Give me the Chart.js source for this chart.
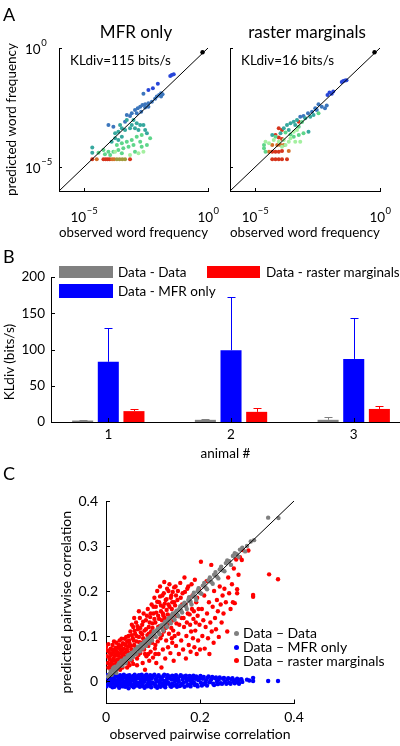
<!DOCTYPE html>
<html>
<head>
<meta charset="utf-8">
<script src="https://cdn.jsdelivr.net/npm/chart.js@4.4.1/dist/chart.umd.min.js"></script>
<style>
  body { margin: 0; background: #fff; width: 400px; height: 746px; position: relative; overflow: hidden; font-family: Lato, sans-serif; color: #000; }
  canvas { position: absolute; }
  .t { position: absolute; white-space: nowrap; line-height: 1; }
  .sw { position: absolute; }
  .dot { position: absolute; width: 5px; height: 5px; border-radius: 50%; }
</style>
</head>
<body>
<canvas id="a1" width="225" height="245" style="left:0;top:0"></canvas>
<canvas id="a2" width="185" height="245" style="left:215px;top:0"></canvas>
<canvas id="b" width="400" height="220" style="left:0;top:245px"></canvas>
<canvas id="c" width="400" height="281" style="left:0;top:465px"></canvas>

<div class="t" style="left:3px;top:5px;font-size:18px">A</div>
<div class="t" style="left:76px;top:23px;width:120px;text-align:center;font-size:17px">MFR only</div>
<div class="t" style="left:247px;top:23px;width:120px;text-align:center;font-size:17px">raster marginals</div>
<div class="t" style="left:70px;top:54px;font-size:13.5px">KLdiv=115 bits/s</div>
<div class="t" style="left:241px;top:54px;font-size:13.5px">KLdiv=16 bits/s</div>

<div class="t" style="left:3px;top:247px;font-size:18px">B</div>
<div class="t" style="left:-51px;top:354px;width:120px;height:16px;line-height:16px;text-align:center;font-size:13.5px;transform:rotate(-90deg)">KLdiv (bits/s)</div>
<div class="sw" style="left:59px;top:266px;width:54px;height:12px;background:#808080"></div>
<div class="sw" style="left:59px;top:284px;width:54px;height:14px;background:#0000ff"></div>
<div class="sw" style="left:207px;top:266px;width:53px;height:12px;background:#ff0000"></div>
<div class="t" style="left:118px;top:266px;font-size:13.5px">Data - Data</div>
<div class="t" style="left:118px;top:285px;font-size:13.5px">Data - MFR only</div>
<div class="t" style="left:266px;top:266px;font-size:13.5px">Data - raster marginals</div>

<div class="t" style="left:3px;top:464px;font-size:18px">C</div>
<div class="dot" style="left:234px;top:631px;background:#808080"></div>
<div class="dot" style="left:234px;top:645px;background:#0000ff"></div>
<div class="dot" style="left:234px;top:658px;background:#ff0000"></div>
<div class="t" style="left:243px;top:626px;font-size:14px">Data &ndash; Data</div>
<div class="t" style="left:243px;top:640px;font-size:14px">Data &ndash; MFR only</div>
<div class="t" style="left:243px;top:654px;font-size:14px">Data &ndash; raster marginals</div>

<script>
// ---- panel A: log10 of word frequency [observed, predicted] ----
var aTickExps = [-5, 0];
var diagExps = [-6, 0];
var topWord = [-0.22, -0.18];

var mfrBlue = [[-1.52,-1.17],[-1.46,-1.13],[-1.38,-1.10],[-2.02,-1.50],[-2.22,-1.69],[-2.40,-1.76]];
var mfrSteel = [[-2.60,-1.92],[-1.89,-1.90],[-1.83,-1.94],[-1.97,-1.97],[-2.06,-2.04],[-2.13,-2.13],[-1.89,-2.04],[-2.26,-2.25],[-2.40,-2.32],[-2.53,-2.36],[-2.64,-2.39],[-2.73,-2.46],[-2.83,-2.53],[-2.53,-2.50],[-2.40,-2.46],[-2.94,-2.60],[-2.87,-2.74],[-2.69,-2.67],[-3.07,-2.74],[-3.27,-2.81],[-3.14,-2.85],[-4.01,-3.23],[-3.81,-3.30],[-3.34,-3.09]];
var mfrTeal = [[-3.54,-3.23],[-3.27,-3.02],[-3.00,-3.02],[-2.87,-3.16],[-2.73,-3.23],[-2.60,-3.23],[-3.07,-3.23],[-3.47,-3.37],[-3.34,-3.44],[-3.14,-3.37],[-2.94,-3.37],[-2.80,-3.44],[-3.61,-3.51],[-3.74,-3.58],[-2.53,-3.44],[-2.46,-3.58],[-3.74,-3.79],[-3.61,-3.86],[-3.88,-3.93],[-3.47,-3.72],[-4.66,-4.18],[-4.66,-4.39]];
var mfrGreen = [[-3.67,-4.07],[-3.47,-4.00],[-3.27,-3.93],[-3.07,-3.86],[-2.87,-3.72],[-2.67,-3.65],[-2.73,-3.93],[-3.00,-4.07],[-3.20,-4.14],[-3.41,-4.21],[-3.61,-4.28],[-3.81,-4.35],[-4.01,-4.35],[-4.21,-4.28],[-4.41,-4.39],[-4.15,-4.46],[-3.94,-4.49],[-3.47,-4.42],[-2.94,-4.35],[-2.67,-4.14],[-2.46,-4.07],[-2.33,-3.79]];
var mfrLight = [[-3.14,-4.49],[-2.80,-4.42],[-2.60,-4.35],[-3.74,-4.35]];
var mfrRed = [[-4.66,-4.67],[-4.21,-4.67],[-4.12,-4.67],[-4.04,-4.67],[-3.96,-4.67],[-3.14,-4.67]];
var mfrOrange = [[-4.48,-4.67],[-3.86,-4.67],[-3.78,-4.67]];
var mfrOlive = [[-3.67,-4.67],[-3.56,-4.67],[-3.45,-4.67],[-3.34,-4.67]];

var rmBlue = [[-1.47,-1.38],[-1.40,-1.36],[-1.34,-1.35],[-1.53,-1.43],[-2.02,-1.87],[-2.10,-1.97],[-1.93,-1.92],[-1.87,-1.83]];
var rmSteel = [[-2.20,-2.53],[-2.13,-2.41],[-2.46,-2.36],[-2.33,-2.46],[-2.59,-2.53],[-2.72,-2.67],[-2.53,-2.60],[-2.88,-2.74],[-3.19,-2.88],[-3.06,-2.85]];
var rmTeal = [[-3.32,-3.02],[-3.45,-3.09],[-3.58,-3.16],[-3.72,-3.23],[-3.85,-3.37],[-3.65,-3.44],[-3.39,-3.23],[-4.31,-3.65],[-3.98,-3.58],[-2.86,-3.51],[-2.99,-2.95],[-2.79,-2.88],[-2.66,-2.81]];
var rmGreen = [[-3.25,-3.30],[-3.12,-3.11],[-3.78,-3.55],[-3.58,-3.63],[-3.45,-3.72],[-3.25,-3.65],[-3.06,-3.58],[-2.46,-2.74],[-4.18,-3.72],[-4.64,-4.07],[-4.64,-4.21],[-4.58,-4.35]];
var rmLight = [[-4.58,-3.93],[-4.44,-4.00],[-4.25,-3.86],[-4.05,-3.93],[-3.85,-3.86],[-3.65,-3.93],[-3.39,-3.93],[-3.19,-3.93],[-3.45,-3.51],[-3.32,-3.44],[-3.58,-3.79],[-3.78,-4.07],[-3.92,-4.14]];
var rmRed = [[-4.05,-3.37],[-3.92,-3.44],[-3.25,-3.09],[-4.31,-4.35],[-4.18,-4.35],[-4.05,-4.35],[-3.92,-4.32],[-4.31,-4.67],[-4.18,-4.67],[-4.05,-4.67],[-3.92,-4.67],[-3.72,-4.67],[-4.18,-3.65],[-4.05,-3.76],[-3.92,-3.82]];
var rmOrange = [[-4.31,-4.07],[-4.11,-4.07],[-3.98,-4.07],[-3.85,-4.07],[-3.65,-4.32],[-4.44,-4.35]];

// ---- panel B: KL divergence per animal ----
var animals = [1, 2, 3];
var bTicks = [0, 50, 100, 150, 200];
var klData = [2, 3, 3];
var klDataErr = [3, 4.5, 7];
var klMfr = [83, 99, 87];
var klMfrErr = [129, 172, 143];
var klRaster = [15, 14, 18];
var klRasterErr = [17.5, 19, 22];

// ---- panel C: pairwise correlations [observed, predicted] ----
var cTicksX = [0, 0.2, 0.4];
var cTicksY = [0, 0.1, 0.2, 0.3, 0.4];
var cDiag = [0, 0.4];

var corrData = [[0.010,0.022],[0.012,0.014],[0.015,0.028],[0.018,0.020],[0.020,0.032],[0.022,0.018],[0.025,0.030],[0.028,0.040],[0.030,0.036],[0.033,0.045],[0.036,0.040],[0.040,0.050],[0.043,0.046],[0.046,0.055],[0.050,0.052],[0.053,0.060],[0.056,0.058],[0.060,0.066],[0.063,0.062],[0.066,0.072],[0.070,0.070],[0.073,0.078],[0.076,0.074],[0.080,0.084],[0.083,0.080],[0.086,0.090],[0.090,0.088],[0.093,0.096],[0.096,0.094],[0.100,0.104],[0.104,0.100],[0.108,0.112],[0.112,0.108],[0.116,0.120],[0.120,0.116],[0.124,0.128],[0.128,0.124],[0.132,0.136],[0.136,0.132],[0.140,0.145],[0.144,0.140],[0.148,0.152],[0.152,0.148],[0.156,0.160],[0.160,0.156],[0.165,0.170],[0.170,0.166],[0.175,0.180],[0.180,0.176],[0.185,0.190],[0.190,0.186],[0.195,0.200],[0.200,0.196],[0.206,0.212],[0.212,0.208],[0.218,0.224],[0.224,0.220],[0.230,0.236],[0.236,0.232],[0.242,0.248],[0.248,0.246],[0.255,0.262],[0.262,0.266],[0.270,0.278],[0.278,0.282],[0.285,0.292],[0.300,0.300],[0.315,0.313],[0.345,0.363],[0.367,0.362],
[0.004,0.010],[0.008,0.016],[0.014,0.024],[0.017,0.030],[0.022,0.026],[0.026,0.036],[0.031,0.042],[0.035,0.034],[0.038,0.046],[0.042,0.040],[0.045,0.050],[0.048,0.058],[0.052,0.048],[0.055,0.063],[0.058,0.054],[0.062,0.070],[0.065,0.060],[0.068,0.076],[0.072,0.066],[0.075,0.082],[0.078,0.072],[0.082,0.088],[0.085,0.078],[0.088,0.094],[0.092,0.084],[0.095,0.100],[0.098,0.090],[0.102,0.110],[0.106,0.098],[0.110,0.116],[0.114,0.104],[0.118,0.124],[0.122,0.112],[0.126,0.132],[0.130,0.120],[0.134,0.140],[0.138,0.128],[0.142,0.150],[0.146,0.136],[0.150,0.156],[0.154,0.144],[0.158,0.166],[0.162,0.152],[0.167,0.174],[0.172,0.160],[0.177,0.186],[0.182,0.170],[0.187,0.196],[0.192,0.180],[0.197,0.206],[0.203,0.194],[0.209,0.218],[0.215,0.204],[0.221,0.230],[0.227,0.216],[0.233,0.242],[0.239,0.228],[0.245,0.254],[0.252,0.244],[0.258,0.268],[0.266,0.258],[0.274,0.284],[0.282,0.276],[0.290,0.296],[0.296,0.288],[0.308,0.310]];

var corrMfr = [[0.002,0.004],[0.004,-0.008],[0.006,0.010],[0.007,-0.002],[0.009,0.006],[0.010,-0.011],[0.012,0.001],[0.013,0.012],[0.015,-0.005],[0.016,0.007],[0.018,-0.013],[0.019,0.003],[0.021,-0.007],[0.022,0.011],[0.024,0.000],[0.025,-0.010],[0.027,0.006],[0.029,-0.003],[0.030,0.013],[0.032,-0.008],[0.034,0.004],[0.035,-0.012],[0.037,0.008],[0.039,-0.001],[0.040,0.010],[0.042,-0.006],[0.044,0.002],[0.046,0.012],[0.047,-0.009],[0.049,0.005],[0.051,-0.004],[0.053,0.009],[0.055,-0.011],[0.056,0.001],[0.058,0.011],[0.060,-0.006],[0.062,0.004],[0.064,-0.002],[0.066,0.010],[0.067,-0.010],[0.069,0.006],[0.071,-0.004],[0.073,0.012],[0.075,0.000],[0.077,-0.008],[0.079,0.008],[0.081,-0.002],[0.083,0.011],[0.085,-0.011],[0.087,0.003],[0.089,-0.006],[0.091,0.009],[0.093,0.000],[0.095,-0.009],[0.097,0.006],[0.099,-0.003],[0.101,0.012],[0.104,-0.007],[0.106,0.004],[0.108,-0.001],[0.110,0.010],[0.113,-0.010],[0.115,0.002],[0.117,0.008],[0.120,-0.005],[0.122,0.011],[0.125,0.000],[0.127,-0.008],[0.130,0.007],[0.132,-0.003],[0.135,0.010],[0.137,-0.011],[0.140,0.003],[0.142,-0.006],[0.145,0.009],[0.147,0.000],[0.150,-0.008],[0.153,0.006],[0.155,-0.002],[0.158,0.011],[0.160,-0.009],[0.163,0.004],[0.165,-0.004],[0.168,0.008],[0.171,-0.001],[0.173,-0.010],[0.176,0.006],[0.179,0.001],[0.181,-0.006],[0.184,0.009],[0.187,-0.003],[0.190,0.005],[0.193,-0.008],[0.196,0.002],[0.199,0.008],[0.202,-0.004],[0.206,0.005],[0.209,-0.007],[0.213,0.002],[0.216,0.007],[0.220,-0.003],[0.224,0.004],[0.228,-0.006],[0.232,0.006],[0.236,-0.001],[0.240,0.003],[0.244,-0.005],[0.249,0.005],[0.253,-0.002],[0.258,0.003],[0.262,-0.004],[0.267,0.004],[0.271,-0.001],[0.276,0.002],[0.281,-0.003],[0.285,0.003],[0.290,-0.002],[0.300,0.003],[0.305,0.001],[0.313,0.007],[0.313,0.000],[0.345,0.000],[0.366,0.000],
[0.001,-0.012],[0.003,0.013],[0.005,0.001],[0.008,-0.006],[0.011,0.009],[0.014,-0.014],[0.017,0.002],[0.020,0.014],[0.023,-0.004],[0.026,0.009],[0.028,-0.015],[0.031,0.002],[0.033,0.010],[0.036,-0.005],[0.038,0.014],[0.041,-0.013],[0.043,0.007],[0.045,-0.002],[0.048,-0.016],[0.050,0.013],[0.052,0.000],[0.054,-0.009],[0.057,0.006],[0.059,-0.014],[0.061,0.014],[0.063,-0.010],[0.065,0.007],[0.068,-0.005],[0.070,0.013],[0.072,-0.013],[0.074,0.004],[0.076,0.014],[0.078,-0.011],[0.080,0.003],[0.082,-0.015],[0.084,0.008],[0.086,0.014],[0.088,-0.012],[0.090,0.002],[0.092,-0.008],[0.094,0.013],[0.096,-0.014],[0.098,0.009],[0.100,-0.005],[0.103,0.014],[0.105,-0.012],[0.107,0.006],[0.109,-0.015],[0.112,0.013],[0.114,-0.003],[0.116,-0.013],[0.119,0.004],[0.121,-0.010],[0.124,0.014],[0.126,-0.014],[0.129,0.002],[0.131,0.013],[0.134,-0.006],[0.136,0.006],[0.139,-0.013],[0.141,0.012],[0.144,-0.010],[0.146,0.005],[0.149,0.013],[0.151,-0.013],[0.154,0.001],[0.157,-0.011],[0.159,0.013],[0.162,-0.006],[0.164,0.010],[0.167,-0.013],[0.170,0.012],[0.172,0.003],[0.175,-0.008],[0.178,0.011],[0.180,-0.012],[0.183,0.003],[0.186,0.012],[0.189,-0.009],[0.192,0.010],[0.195,-0.012],[0.198,0.004],[0.201,0.011],[0.204,-0.010],[0.208,0.009],[0.211,-0.004],[0.215,-0.010],[0.218,0.010],[0.222,0.000],[0.226,0.009],[0.230,-0.009],[0.234,0.008],[0.238,-0.007],[0.242,0.008],[0.247,-0.006],[0.251,0.007],[0.256,-0.006],[0.260,0.006],[0.265,-0.006],[0.269,0.006],[0.274,-0.005],[0.279,0.005],[0.283,-0.006],[0.288,0.004]];

var corrRaster = [[0.000,0.076],[0.002,0.055],[0.004,0.040],[0.005,0.030],[0.006,0.065],[0.008,0.048],[0.009,0.035],[0.010,0.072],[0.011,0.058],[0.012,0.042],[0.013,0.028],[0.014,0.080],[0.015,0.064],[0.016,0.050],[0.017,0.036],[0.018,0.070],[0.019,0.045],[0.020,0.058],[0.021,0.030],[0.022,0.085],[0.023,0.066],[0.024,0.048],[0.025,0.040],[0.026,0.074],[0.027,0.056],[0.028,0.034],[0.029,0.090],[0.030,0.062],[0.030,0.025],[0.031,0.046],[0.032,0.078],[0.033,0.052],[0.034,0.068],[0.035,0.040],[0.036,0.084],[0.037,0.060],[0.038,0.072],[0.039,0.050],[0.040,0.094],[0.041,0.064],[0.042,0.080],[0.043,0.044],[0.044,0.070],[0.045,0.088],[0.045,0.030],[0.046,0.056],[0.047,0.076],[0.048,0.100],[0.049,0.062],[0.050,0.084],[0.050,0.035],
[0.052,0.110],[0.054,0.070],[0.055,0.045],[0.057,0.095],[0.058,0.120],[0.060,0.080],[0.061,0.060],[0.062,0.105],[0.064,0.130],[0.065,0.088],[0.066,0.050],[0.068,0.115],[0.069,0.075],[0.070,0.098],[0.072,0.140],[0.073,0.062],[0.074,0.108],[0.075,0.085],[0.077,0.125],[0.078,0.040],[0.079,0.095],[0.080,0.150],[0.081,0.070],[0.082,0.112],[0.083,0.025],[0.084,0.088],[0.085,0.135],[0.086,0.055],[0.088,0.102],[0.089,0.160],[0.090,0.078],[0.091,0.120],[0.092,0.045],[0.093,0.095],[0.094,0.142],[0.095,0.065],[0.096,0.110],[0.097,0.170],[0.098,0.085],[0.099,0.128],[0.100,0.052],
[0.101,0.150],[0.102,0.100],[0.103,0.185],[0.104,0.072],[0.105,0.130],[0.106,0.165],[0.107,0.040],[0.108,0.112],[0.109,0.200],[0.110,0.088],[0.111,0.145],[0.112,0.060],[0.113,0.175],[0.114,0.122],[0.115,0.210],[0.116,0.095],[0.117,0.155],[0.118,0.030],[0.119,0.135],[0.120,0.190],[0.121,0.070],[0.122,0.165],[0.123,0.110],[0.124,0.220],[0.125,0.140],[0.126,0.050],[0.127,0.180],[0.128,0.090],[0.129,0.158],[0.130,0.205],[0.131,0.125],[0.132,0.075],[0.133,0.170],[0.134,0.105],[0.135,0.215],[0.136,0.145],[0.137,0.062],[0.138,0.185],[0.139,0.118],[0.140,0.160],[0.141,0.085],[0.142,0.198],[0.143,0.135],[0.144,0.045],[0.145,0.175],[0.146,0.100],[0.147,0.150],[0.148,0.210],[0.149,0.078],[0.150,0.128],
[0.152,0.180],[0.154,0.105],[0.155,0.060],[0.157,0.160],[0.158,0.218],[0.160,0.090],[0.161,0.140],[0.163,0.195],[0.164,0.070],[0.166,0.120],[0.167,0.230],[0.169,0.170],[0.170,0.050],[0.171,0.100],[0.173,0.205],[0.174,0.150],[0.176,0.080],[0.177,0.185],[0.179,0.125],[0.180,0.065],[0.182,0.215],[0.183,0.160],[0.185,0.095],[0.186,0.138],[0.188,0.075],[0.189,0.225],[0.190,0.112],[0.192,0.175],[0.193,0.060],[0.195,0.145],[0.196,0.090],[0.198,0.205],[0.199,0.125],[0.200,0.070],
[0.202,0.265],[0.204,0.160],[0.205,0.100],[0.207,0.135],[0.209,0.190],[0.210,0.072],[0.212,0.120],[0.214,0.222],[0.215,0.150],[0.217,0.095],[0.219,0.175],[0.220,0.060],[0.222,0.130],[0.224,0.258],[0.225,0.110],[0.227,0.165],[0.229,0.085],[0.230,0.200],[0.232,0.140],[0.234,0.115],[0.236,0.180],[0.238,0.155],[0.240,0.098],[0.242,0.210],[0.244,0.170],[0.246,0.130],[0.248,0.190],[0.250,0.150],
[0.252,0.205],[0.255,0.175],[0.258,0.110],[0.260,0.230],[0.262,0.195],[0.265,0.160],[0.268,0.215],[0.270,0.175],[0.272,0.250],[0.274,0.173],[0.277,0.270],[0.279,0.204],[0.279,0.195],[0.282,0.236],[0.285,0.275],[0.289,0.269],[0.291,0.291],[0.303,0.290],[0.313,0.191],[0.313,0.187],[0.347,0.237],[0.366,0.226],
[0.003,0.068],[0.005,0.082],[0.007,0.052],[0.009,0.061],[0.011,0.038],[0.013,0.070],[0.015,0.046],[0.017,0.088],[0.019,0.056],[0.021,0.074],[0.023,0.040],[0.025,0.062],[0.027,0.080],[0.029,0.048],[0.031,0.070],[0.033,0.094],[0.035,0.058],[0.037,0.044],[0.039,0.082],[0.041,0.054],[0.043,0.098],[0.045,0.066],[0.047,0.040],[0.049,0.090],[0.051,0.060],[0.053,0.078],[0.055,0.102],[0.057,0.066],[0.059,0.090],[0.061,0.112],[0.063,0.074],[0.065,0.100],[0.067,0.122],[0.069,0.058],[0.071,0.086],[0.073,0.118],[0.075,0.070],[0.077,0.104],[0.079,0.132],[0.081,0.092],[0.083,0.060],[0.085,0.115],[0.087,0.145],[0.089,0.082],[0.091,0.105],[0.093,0.130],[0.095,0.150],[0.097,0.092],[0.099,0.118],[0.101,0.165],[0.103,0.138],[0.105,0.080],[0.107,0.152],[0.109,0.176],[0.111,0.120],[0.113,0.138],[0.115,0.188],[0.117,0.168],[0.119,0.102],[0.121,0.150],[0.123,0.195],[0.125,0.172],[0.127,0.118],[0.129,0.182],[0.131,0.148],[0.133,0.200],[0.135,0.165],[0.137,0.130],[0.139,0.190],[0.141,0.175],[0.143,0.112],[0.145,0.208],[0.147,0.168],[0.149,0.190],[0.151,0.145],[0.153,0.200],[0.156,0.125],[0.159,0.185],[0.162,0.170],[0.165,0.140],[0.168,0.198],[0.172,0.130],[0.175,0.210],[0.178,0.148],[0.181,0.110],[0.184,0.190],[0.187,0.155],[0.191,0.130],[0.194,0.185],[0.197,0.160],[0.010,0.025],[0.020,0.022],[0.035,0.030],[0.058,0.038],[0.066,0.035],[0.090,0.060],[0.122,0.145],[0.140,0.095],[0.105,0.060],[0.060,0.140],[0.070,0.155],[0.055,0.125]];

Chart.defaults.font.family = 'Lato, sans-serif';
Chart.defaults.color = '#000';

// small inward tick marks, matlab style
var inTicks = {
    id: 'inTicks',
    afterDraw: function(chart, args, opts) {
        var ctx = chart.ctx, a = chart.chartArea, len = opts.len || 4;
        var xs = chart.scales.x, ys = chart.scales.y;
        ctx.save();
        ctx.strokeStyle = '#000';
        ctx.lineWidth = 1;
        ctx.beginPath();
        xs.ticks.forEach(function(t) {
            var p = Math.round(xs.getPixelForValue(t.value)) + 0.5;
            ctx.moveTo(p, a.bottom);
            ctx.lineTo(p, a.bottom - len);
        });
        ys.ticks.forEach(function(t) {
            var p = Math.round(ys.getPixelForValue(t.value)) + 0.5;
            ctx.moveTo(a.left, p);
            ctx.lineTo(a.left + len, p);
        });
        ctx.stroke();
        ctx.restore();
    }
};

// 10^n labels for the log axes
var powLabels = {
    id: 'powLabels',
    afterDraw: function(chart, args, opts) {
        var ctx = chart.ctx, a = chart.chartArea;
        function lab(e, x, y, align) {
            var s = e < 0 ? '\u2212' + (-e) : String(e);
            ctx.font = '13.5px Lato';
            var w1 = ctx.measureText('10').width;
            ctx.font = '9.5px Lato';
            var w2 = ctx.measureText(s).width;
            var x0 = align === 'center' ? x - (w1 + w2) / 2 : x;
            ctx.font = '13.5px Lato';
            ctx.fillText('10', x0, y);
            ctx.font = '9.5px Lato';
            ctx.fillText(s, x0 + w1 + 0.5, y - 8);
        }
        ctx.save();
        ctx.fillStyle = '#000';
        ctx.textBaseline = 'alphabetic';
        ctx.textAlign = 'left';
        if (opts.x) {
            aTickExps.forEach(function(e) {
                lab(e, chart.scales.x.getPixelForValue(Math.pow(10, e)), a.bottom + 31, 'center');
            });
        }
        if (opts.y) {
            aTickExps.forEach(function(e) {
                lab(e, a.left - 34, chart.scales.y.getPixelForValue(Math.pow(10, e)) + 6, 'left');
            });
        }
        ctx.restore();
    }
};

// upper error bars for panel B
var errBars = {
    id: 'errBars',
    afterDatasetsDraw: function(chart) {
        var ctx = chart.ctx, ys = chart.scales.y;
        chart.data.datasets.forEach(function(ds, i) {
            var meta = chart.getDatasetMeta(i);
            ctx.save();
            ctx.strokeStyle = ds.backgroundColor;
            ctx.lineWidth = 1;
            meta.data.forEach(function(bar, j) {
                var x = Math.round(bar.x) + 0.5;
                var yTop = Math.round(ys.getPixelForValue(ds.errTop[j])) + 0.5;
                ctx.beginPath();
                ctx.moveTo(x, bar.y);
                ctx.lineTo(x, yTop);
                ctx.moveTo(x - 4, yTop);
                ctx.lineTo(x + 4, yTop);
                ctx.stroke();
            });
            ctx.restore();
        });
    }
};

function toPts(list) {
    return list.map(function(p) { return { x: Math.pow(10, p[0]), y: Math.pow(10, p[1]) }; });
}
function toXY(list) {
    return list.map(function(p) { return { x: p[0], y: p[1] }; });
}

function makeA(id, groups, showY, leftW, padRight) {
    var datasets = [{
        data: diagExps.map(function(e) { return { x: Math.pow(10, e), y: Math.pow(10, e) }; }),
        showLine: true, borderColor: '#000', borderWidth: 1, pointRadius: 0
    }, {
        data: toPts([topWord]), backgroundColor: '#000', pointRadius: 2.2, borderWidth: 0
    }];
    groups.forEach(function(g) {
        datasets.push({ data: toPts(g[0]), backgroundColor: g[1], borderWidth: 0, pointRadius: 2 });
    });
    new Chart(document.getElementById(id), {
        type: 'scatter',
        data: { datasets: datasets },
        options: {
            responsive: false, animation: false, devicePixelRatio: 1,
            layout: { padding: { top: 48, right: padRight, left: 0, bottom: 0 } },
            plugins: { legend: { display: false }, tooltip: { enabled: false }, inTicks: { len: 3 }, powLabels: { x: true, y: showY } },
            scales: {
                x: {
                    type: 'logarithmic', min: 1e-6, max: 1,
                    grid: { display: false }, border: { color: '#000' }, ticks: { display: false },
                    afterBuildTicks: function(s) { s.ticks = aTickExps.map(function(e) { return { value: Math.pow(10, e) }; }); },
                    afterFit: function(s) { s.height = 54; },
                    title: { display: true, text: 'observed word frequency', font: { size: 13.5 }, padding: { top: 0, bottom: 4 } }
                },
                y: {
                    type: 'logarithmic', min: 1e-6, max: 1,
                    grid: { display: false }, border: { color: '#000' }, ticks: { display: false },
                    afterBuildTicks: function(s) { s.ticks = aTickExps.map(function(e) { return { value: Math.pow(10, e) }; }); },
                    afterFit: function(s) { s.width = leftW; },
                    title: { display: showY, text: 'predicted word frequency', font: { size: 13.5 }, padding: { top: 4, bottom: 0 } }
                }
            }
        },
        plugins: [inTicks, powLabels]
    });
}

makeA('a1', [
    [mfrLight, '#a4f0a0'], [mfrGreen, '#5ed68a'], [mfrTeal, '#36a89e'], [mfrSteel, '#3c76bc'], [mfrBlue, '#2846d8'],
    [mfrOlive, '#a09a3c'], [mfrOrange, '#d4702a'], [mfrRed, '#d6341c']
], true, 59, 17);

makeA('a2', [
    [rmLight, '#a4f0a0'], [rmGreen, '#5ed68a'], [rmTeal, '#36a89e'], [rmSteel, '#3c76bc'], [rmBlue, '#2846d8'],
    [rmOrange, '#d4702a'], [rmRed, '#d6341c']
], false, 15, 20);

function bars(vals) {
    return vals.map(function(v, i) { return { x: animals[i], y: v }; });
}

new Chart(document.getElementById('b'), {
    type: 'bar',
    data: {
        datasets: [
            { data: bars(klData), errTop: klDataErr, backgroundColor: '#808080' },
            { data: bars(klMfr), errTop: klMfrErr, backgroundColor: '#0000ff' },
            { data: bars(klRaster), errTop: klRasterErr, backgroundColor: '#ff0000' }
        ]
    },
    options: {
        responsive: false, animation: false, devicePixelRatio: 1,
        categoryPercentage: 0.627, barPercentage: 0.82,
        layout: { padding: { top: 32, right: 0, left: 0, bottom: 0 } },
        plugins: { legend: { display: false }, tooltip: { enabled: false }, inTicks: { len: 4 } },
        scales: {
            x: {
                type: 'linear', min: 0.533, max: 3.377, offset: false,
                grid: { display: false, drawTicks: false }, border: { color: '#000' },
                ticks: { font: { size: 13.5 }, padding: 5, callback: function(v) { return String(v); } },
                afterBuildTicks: function(s) { s.ticks = animals.map(function(v) { return { value: v }; }); },
                afterFit: function(s) { s.height = 43; },
                title: { display: true, text: 'animal #', font: { size: 13.5 }, padding: { top: 0, bottom: 3 } }
            },
            y: {
                min: 0, max: 200,
                grid: { display: false, drawTicks: false }, border: { color: '#000' },
                ticks: { font: { size: 13.5 }, padding: 6 },
                afterBuildTicks: function(s) { s.ticks = bTicks.map(function(v) { return { value: v }; }); },
                afterFit: function(s) { s.width = 51; }
            }
        }
    },
    plugins: [inTicks, errBars]
});

new Chart(document.getElementById('c'), {
    type: 'scatter',
    data: {
        datasets: [
            { data: cDiag.map(function(v) { return { x: v, y: v }; }), showLine: true, borderColor: '#000', borderWidth: 1, pointRadius: 0 },
            { data: toXY(corrData), backgroundColor: '#808080', borderWidth: 0, pointRadius: 2.2 },
            { data: toXY(corrMfr), backgroundColor: '#0000ff', borderWidth: 0, pointRadius: 2.2 },
            { data: toXY(corrRaster), backgroundColor: '#ff0000', borderWidth: 0, pointRadius: 2.2 }
        ]
    },
    options: {
        responsive: false, animation: false, devicePixelRatio: 1,
        layout: { padding: { top: 36, right: 106, left: 0, bottom: 0 } },
        plugins: { legend: { display: false }, tooltip: { enabled: false }, inTicks: { len: 4 } },
        scales: {
            x: {
                type: 'linear', min: 0, max: 0.4,
                grid: { display: false, drawTicks: false }, border: { color: '#000' },
                ticks: { font: { size: 14 }, padding: 6, callback: function(v) { return String(v); } },
                afterBuildTicks: function(s) { s.ticks = cTicksX.map(function(v) { return { value: v }; }); },
                afterFit: function(s) { s.height = 42.5; },
                title: { display: true, text: 'observed pairwise correlation', font: { size: 14 }, padding: { top: 0, bottom: 3 } }
            },
            y: {
                type: 'linear', min: -0.05, max: 0.4,
                grid: { display: false, drawTicks: false }, border: { color: '#000' },
                ticks: { font: { size: 14 }, padding: 8, callback: function(v) { return String(v); } },
                afterBuildTicks: function(s) { s.ticks = cTicksY.map(function(v) { return { value: v }; }); },
                afterFit: function(s) { s.width = 106; },
                title: { display: true, text: 'predicted pairwise correlation', font: { size: 14 }, padding: { top: 58, bottom: 0 } }
            }
        }
    },
    plugins: [inTicks]
});
</script>
</body>
</html>
